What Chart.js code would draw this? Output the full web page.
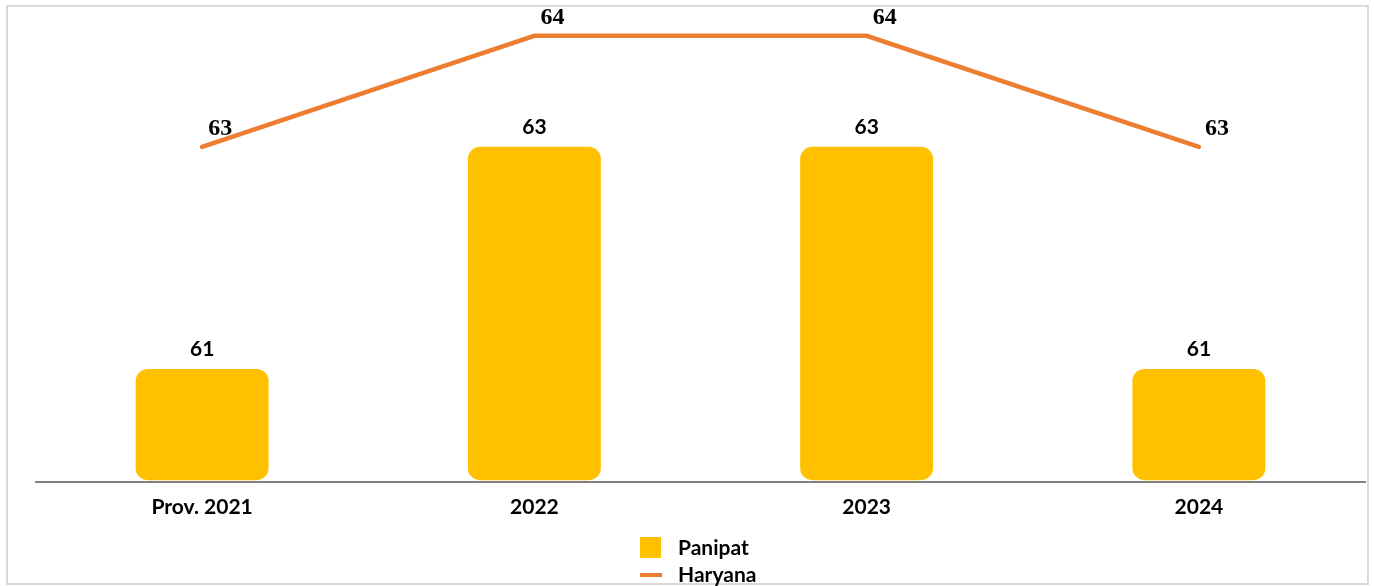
<!DOCTYPE html>
<html>
<head>
<meta charset="utf-8">
<script src="https://cdn.jsdelivr.net/npm/chart.js@4/dist/chart.umd.min.js"></script>
<style>
  html, body { margin: 0; padding: 0; background: #fff; }
  #wrap { width: 1374px; height: 586px; position: relative; }
</style>
</head>
<body>
<div id="wrap"><canvas id="chart" width="1374" height="586"></canvas></div>
<script>
const categories = ['Prov. 2021', '2022', '2023', '2024']
const panipat = [61, 63, 63, 61]
const haryana = [63, 64, 64, 63]
const axisMin = 60

const sansFont = 'Lato, "Open Sans", sans-serif'
const serifFont = '"Liberation Serif", "DejaVu Serif", serif'

// frame + value labels + stacked legend
const extras = {
    id: 'extras',
    beforeDraw(chart) {
        const ctx = chart.ctx
        ctx.save()
        ctx.strokeStyle = '#d9d9d9'
        ctx.lineWidth = 2
        ctx.strokeRect(7, 6, 1361, 578)
        ctx.restore()
    },
    afterDatasetsDraw(chart) {
        const ctx = chart.ctx
        ctx.save()
        ctx.fillStyle = '#000'
        ctx.textBaseline = 'middle'

        ctx.textAlign = 'center'
        ctx.font = 'bold 21px ' + sansFont
        chart.getDatasetMeta(0).data.forEach((el, i) => {
            ctx.fillText(chart.data.datasets[0].data[i], el.x, el.y - 20)
        })

        ctx.textAlign = 'left'
        ctx.font = 'bold 24px ' + serifFont
        chart.getDatasetMeta(1).data.forEach((el, i) => {
            ctx.fillText(chart.data.datasets[1].data[i], el.x + 6, el.y - 18)
        })
        ctx.restore()
    },
    afterDraw(chart) {
        const ctx = chart.ctx
        const x0 = 640
        ctx.save()
        ctx.font = 'bold 21px ' + sansFont
        ctx.textBaseline = 'middle'
        ctx.textAlign = 'left'
        ctx.fillStyle = chart.data.datasets[0].backgroundColor
        ctx.fillRect(x0, 537, 21, 21)
        ctx.fillStyle = '#000'
        ctx.fillText(chart.data.datasets[0].label, x0 + 38, 548)

        ctx.strokeStyle = chart.data.datasets[1].borderColor
        ctx.lineWidth = 4
        ctx.beginPath()
        ctx.moveTo(x0, 575)
        ctx.lineTo(x0 + 22, 575)
        ctx.stroke()
        ctx.fillText(chart.data.datasets[1].label, x0 + 38, 575)
        ctx.restore()
    }
}

new Chart(document.getElementById('chart').getContext('2d'), {
    data: {
        labels: categories,
        datasets: [
            {
                type: 'bar',
                label: 'Panipat',
                data: panipat,
                base: axisMin,
                backgroundColor: '#FFC000',
                borderRadius: 12,
                borderSkipped: false,
                barPercentage: 0.4,
                categoryPercentage: 1,
                order: 2
            },
            {
                type: 'line',
                label: 'Haryana',
                data: haryana,
                borderColor: '#ED7D31',
                borderWidth: 4.5,
                borderCapStyle: 'round',
                pointRadius: 0,
                tension: 0,
                order: 1
            }
        ]
    },
    options: {
        responsive: false,
        animation: false,
        maintainAspectRatio: false,
        layout: { padding: { left: 36, right: 9, top: 8, bottom: 53 } },
        plugins: {
            legend: { display: false },
            tooltip: { enabled: false }
        },
        scales: {
            x: {
                grid: { display: false, drawTicks: false },
                border: { display: true, color: '#808080', width: 2 },
                ticks: {
                    color: '#000',
                    padding: 13,
                    font: { family: sansFont, size: 21, weight: 'bold' }
                }
            },
            y: {
                display: false,
                min: 59.985,
                max: 64.25
            }
        }
    },
    plugins: [extras]
})
</script>
</body>
</html>
